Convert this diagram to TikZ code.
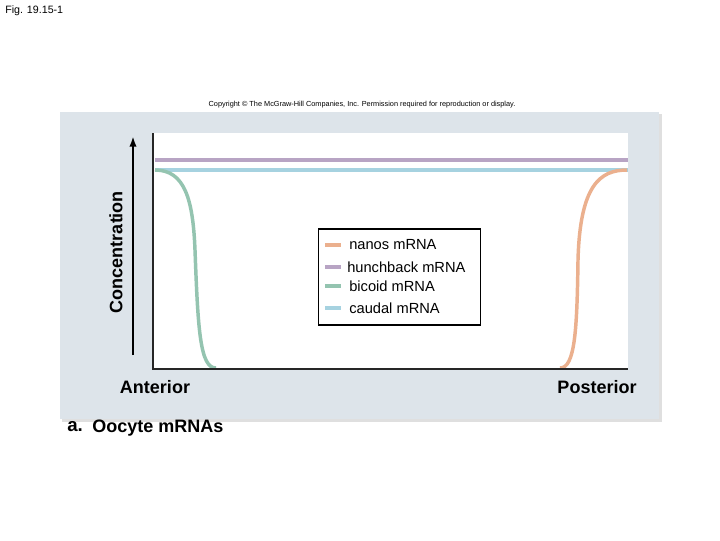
\documentclass[tikz,border=0pt]{standalone}
\usepackage{fontspec}
\setmainfont{Liberation Sans}
\usetikzlibrary{arrows.meta}
\begin{document}
\begin{tikzpicture}[x=0.75pt,y=-0.75pt,
  lab/.style={font=\bfseries\fontsize{13.5}{15}\selectfont,inner sep=0},
  leg/.style={font=\fontsize{11}{13}\selectfont,anchor=west,inner sep=0},
  curve/.style={line width=2.6pt}]
\definecolor{panel}{HTML}{DDE4EA}
\definecolor{nanos}{HTML}{EBB08E}
\definecolor{hunch}{HTML}{B8A4C4}
\definecolor{bicoid}{HTML}{94C4B0}
\definecolor{caudal}{HTML}{A6D2E0}
\useasboundingbox (0,0) rectangle (720,540);
\fill[gray!25] (62,114) rectangle (662,422);
\fill[panel] (60,112) rectangle (659,419);
\fill[white] (153,133) rectangle (628,369);
\node[font=\fontsize{5.5}{6}\selectfont,inner sep=0] (cp) at (362,105) {Copyright © The McGraw-Hill Companies, Inc. Permission required for reproduction or display.};
\node[font=\fontsize{8}{10}\selectfont,anchor=north west,inner sep=0] (fig) at (5,5) {Fig. 19.15-1};
\draw[curve,hunch] (155,160) -- (628,160);
\draw[curve,caudal] (155,170) -- (628,170);
\draw[curve,bicoid] (155,170) .. controls (185,170) and (193,200) .. (195,250) .. controls (198,330) and (200,368) .. (216,368);
\draw[curve,nanos] (560,368) .. controls (575,368) and (577,330) .. (578,260) .. controls (580,185) and (600,170) .. (627,170);
\draw[line width=1.4pt,black!85] (153,133) -- (153,369) -- (628,369);
\coordinate (a0) at (133,355); \coordinate (a1) at (133,136);
\draw[line width=1.6pt,-{Latex[length=8pt,width=5.5pt]}] (a0) -- (a1);
\node[lab,rotate=90] (conc) at (116,252) {Concentration};
\node[draw,line width=0.9pt,fill=white,minimum width=122pt,minimum height=72pt,inner sep=0] (legbox) at (399.5,277) {};
\foreach \c/\y/\t/\xx in {nanos/245/nanos mRNA/349,hunch/267/hunchback mRNA/347,bicoid/286/bicoid mRNA/349,caudal/308/caudal mRNA/349}{
  \draw[line width=2.4pt,\c] (325,\y) -- (341,\y);
  \node[leg] at (\xx,\y) {\t};}
\node[lab] (ant) at (155,387) {Anterior};
\node[lab] (post) at (597,387) {Posterior};
\node[lab,anchor=west,font=\bfseries\fontsize{14}{16}\selectfont] (a) at (67,427) {a.};
\node[lab,anchor=west] (oo) at (92,428) {Oocyte mRNAs};
\end{tikzpicture}
\end{document}
